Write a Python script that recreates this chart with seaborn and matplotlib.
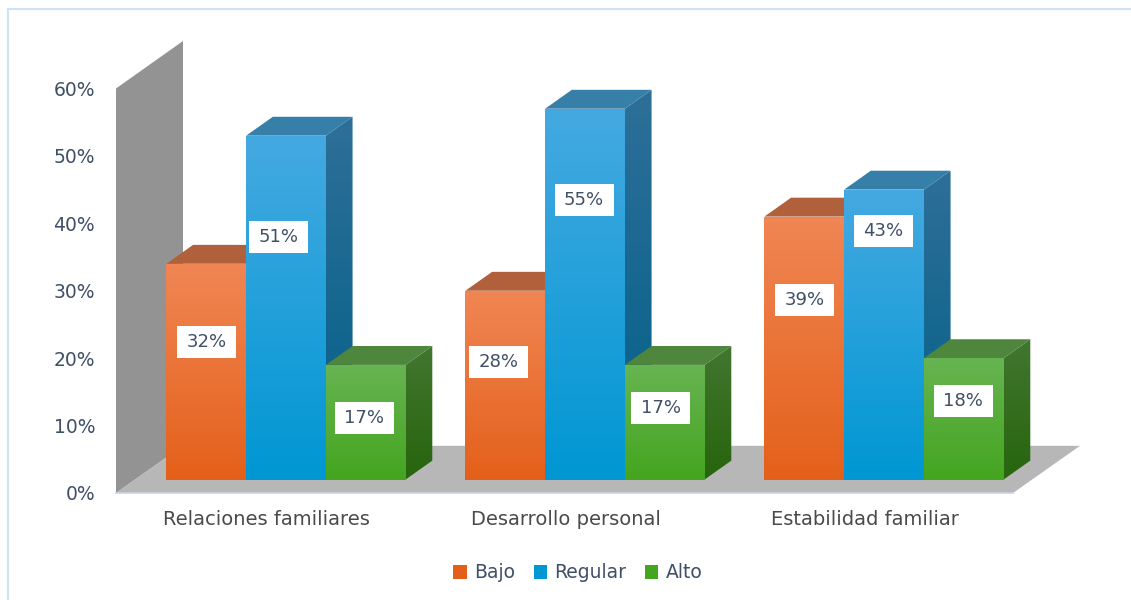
import numpy as np
import pandas as pd
import seaborn as sns
import matplotlib
matplotlib.use("Agg")
import matplotlib.pyplot as plt
from matplotlib.colors import LinearSegmentedColormap
from matplotlib.patches import Polygon, Rectangle

categorias = ["Relaciones familiares", "Desarrollo personal", "Estabilidad familiar"]
niveles = ["Bajo", "Regular", "Alto"]
bajo = [32, 28, 39]
regular = [51, 55, 43]
alto = [17, 17, 18]
ticks = [0, 10, 20, 30, 40, 50, 60]

# where the labels sit on each bar (height in %, x shift in category units)
label_y = {"Bajo": [20.4, 17.4, 26.6], "Regular": [36.0, 41.5, 36.8], "Alto": [9.1, 10.6, 11.6]}
label_dx = {"Bajo": [0.0, -0.022, 0.0], "Regular": [-0.025, -0.003, -0.003], "Alto": [-0.005, -0.013, -0.002]}

# colours: front top, front bottom, top face, side top, side bottom
colores = {
    "Bajo": ("#F08654", "#E4601A", "#B1603C", "#B1603C", "#A04A18"),
    "Regular": ("#45A9E1", "#0097D3", "#367FA9", "#2E6F99", "#006088"),
    "Alto": ("#67B452", "#44A51F", "#4E863E", "#427630", "#27650D"),
}

W, H = 1131, 600
PX_X = 299.0    # pixels per category
PX_Y = 404.5 / 60    # pixels per percent
DEPTH_X = 26.7 / PX_X
DEPTH_Y = 18.9 / PX_Y

# chart box
DROP = 2.0    # the floor front edge is below the bars
XMIN = (116 - 286) / PX_X
XMAX = (1080 - 286) / PX_X
XBACK = (183 - 116) / PX_X
YTOP = (479.5 - 41) / PX_Y

sns.set_theme(style="white")
plt.rcParams["font.family"] = ["DejaVu Sans"]

df = pd.DataFrame({
    "categoria": categorias * 3,
    "nivel": np.repeat(niveles, 3),
    "valor": bajo + regular + alto,
})

fig = plt.figure(figsize=(W / 100, H / 100), dpi=100, facecolor="white")
fig.add_artist(Rectangle((8 / W, -0.1), 1.1, 1.1 - 9 / H, transform=fig.transFigure,
                         fill=False, edgecolor="#CFE2F3", linewidth=1.5))
ax = fig.add_axes([116 / W, (H - 493) / H, (1080 - 116) / W, (493 - 41) / H])
ax.patch.set_alpha(0)

sns.barplot(
    data=df, x="categoria", y="valor", hue="nivel", hue_order=niveles,
    palette={n: colores[n][0] for n in niveles}, width=0.8, gap=0,
    linewidth=0, saturation=1, ax=ax, zorder=3,
)

# back wall and floor
xfront_r = XMAX - XBACK
ax.add_patch(Polygon([(XMIN, -DROP), (XMIN, 60 - DROP), (XMIN + XBACK, YTOP), (XMIN + XBACK, 5)],
                     facecolor="#939393", edgecolor="none", zorder=1, clip_on=False))
ax.add_patch(Polygon([(XMIN, -DROP), (XMIN + XBACK, 5), (XMAX, 5), (xfront_r, -DROP)],
                     facecolor="#B7B7B7", edgecolor="none", zorder=1, clip_on=False))


def gradient(c1, c2, extent, zorder, clip=None):
    cmap = LinearSegmentedColormap.from_list("g", [c2, c1])
    im = ax.imshow(np.linspace(1, 0, 256)[:, None], cmap=cmap, extent=extent,
                   aspect="auto", zorder=zorder, interpolation="bilinear")
    if clip is not None:
        im.set_clip_path(clip)
    return im


for i, nivel in enumerate(niveles):
    container = ax.containers[i]
    c_front1, c_front2, c_top, c_side1, c_side2 = colores[nivel]
    for j, bar in enumerate(container):
        x0, w, h = bar.get_x(), bar.get_width(), bar.get_height()
        x1 = x0 + w
        z = 3 + (j * 3 + i) * 0.1
        bar.set_zorder(z)
        side = Polygon([(x1, 0), (x1, h), (x1 + DEPTH_X, h + DEPTH_Y), (x1 + DEPTH_X, DEPTH_Y)],
                       facecolor="none", edgecolor="none", transform=ax.transData)
        ax.add_patch(side)
        gradient(c_side1, c_side2, (x1, x1 + DEPTH_X, 0, h + DEPTH_Y), z, clip=side)
        ax.add_patch(Polygon([(x0, h), (x1, h), (x1 + DEPTH_X, h + DEPTH_Y), (x0 + DEPTH_X, h + DEPTH_Y)],
                             facecolor=c_top, edgecolor="none", zorder=z))
        gradient(c_front1, c_front2, (x0, x1, 0, h), z + 0.01)
        # white label box, 59x32 px
        lx, ly = x0 + w / 2 + label_dx[nivel][j], label_y[nivel][j]
        bw, bh = 59 / PX_X, 32 / PX_Y
        ax.add_patch(Rectangle((lx - bw / 2, ly - bh / 2), bw, bh, facecolor="white",
                               edgecolor="none", zorder=20))
        ax.text(lx, ly, "%d%%" % h, ha="center", va="center", fontsize=13,
                color="#3F4F66", zorder=21)

ax.set_xlim(XMIN, XMAX)
ax.set_ylim(-DROP, YTOP)
ax.set_xlabel("")
ax.set_ylabel("")

ax.set_xticks(np.arange(len(categorias)) - 0.065)
ax.set_xticklabels(categorias, fontsize=14, color="#4A4A4A")
ax.set_yticks(np.array(ticks) - DROP)
ax.set_yticklabels(["%d%%" % t for t in ticks], fontsize=13.5, color="#3F4F66")
ax.tick_params(axis="y", length=0, pad=15)
ax.tick_params(axis="x", length=0, pad=12)

sns.despine(ax=ax, left=True, top=True, right=True, bottom=False)
ax.spines["bottom"].set_color("#C5D5E8")
ax.spines["bottom"].set_linewidth(1.2)
ax.spines["bottom"].set_bounds(XMIN, xfront_r)

handles, labels = ax.get_legend_handles_labels()
for handle, nivel in zip(handles, niveles):
    handle.set_facecolor(colores[nivel][1])
ax.legend(handles, labels, ncol=3, frameon=False, loc="center",
          bbox_to_anchor=(578 / W, (H - 573) / H), bbox_transform=fig.transFigure,
          fontsize=13.5, labelcolor="#3F4F66", handlelength=0.7, handleheight=0.7,
          handletextpad=0.4, columnspacing=1.0)

fig.savefig("out.png", dpi=100)
